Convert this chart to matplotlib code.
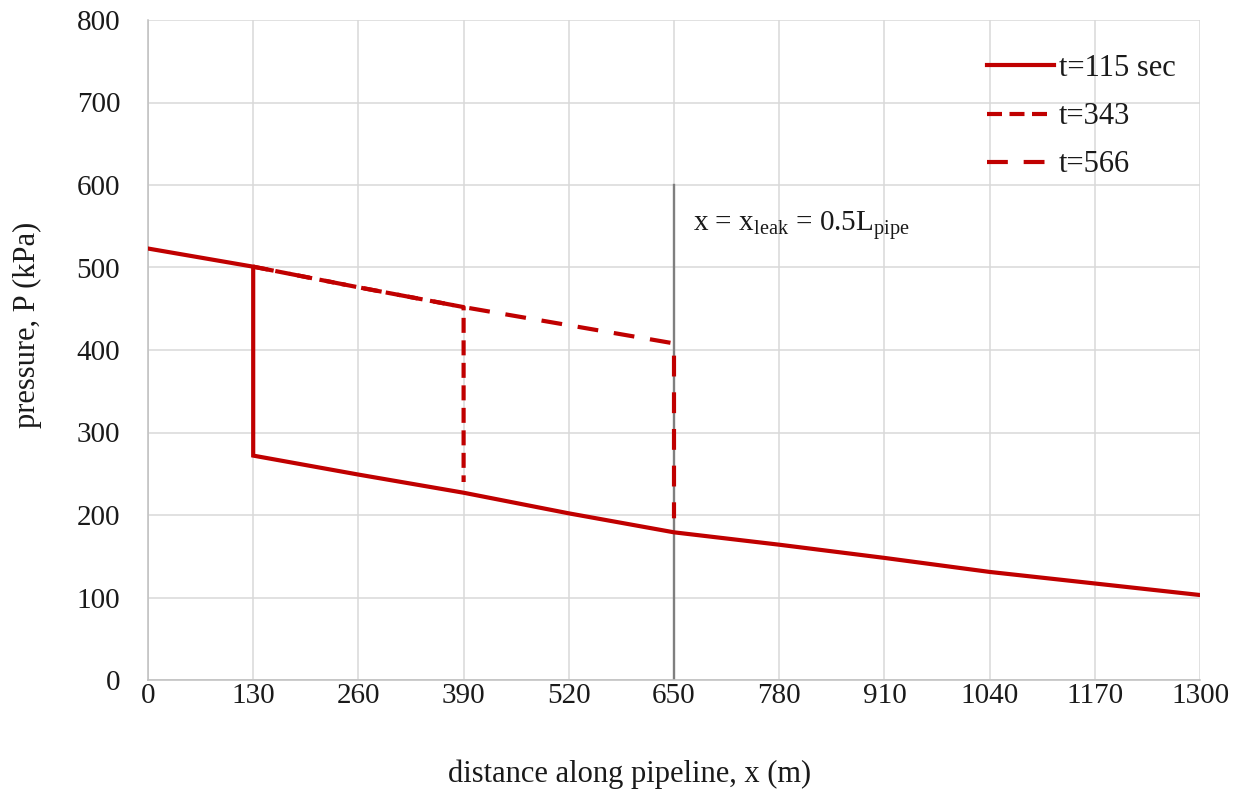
import matplotlib
matplotlib.use("Agg")
import matplotlib.pyplot as plt

plt.rcParams['font.family'] = ['Liberation Serif', 'DejaVu Serif']
plt.rcParams['mathtext.fontset'] = 'custom'
plt.rcParams['mathtext.rm'] = 'Liberation Serif'
plt.rcParams['mathtext.it'] = 'Liberation Serif:italic'

# t = 115 sec profile
x115 = [0, 130, 130, 260, 390, 520, 650, 780, 910, 1040, 1170, 1300]
p115 = [523, 501, 272, 249, 227, 202, 179, 164, 148, 131, 117, 103]
# t = 343 profile (front at 390 m)
x343 = [130, 260, 390, 390]
p343 = [501, 476, 452, 240]
# t = 566 profile (front at 650 m)
x566 = [130, 260, 390, 520, 650, 650]
p566 = [501, 476, 452, 430, 408, 196]
# leak position marker
x_leak = [650, 650]
p_leak = [0, 600]

xticks = [0, 130, 260, 390, 520, 650, 780, 910, 1040, 1170, 1300]
yticks = [0, 100, 200, 300, 400, 500, 600, 700, 800]

red = '#C00000'
txt = '#1a1a1a'
fig = plt.figure(figsize=(12.44, 7.99), dpi=100)
ax = fig.add_axes([148/1244, 1-680/799, (1200-148)/1244, (680-20)/799])

ax.plot(x_leak, p_leak, color='#7f7f7f', lw=1.7, zorder=2)
ax.plot(x343, p343, color=red, lw=3, linestyle=(0, (3.6, 1.8)), label='t=343', zorder=3)
ax.plot(x566, p566, color=red, lw=3, linestyle=(0, (5.0, 3.8)), label='t=566', zorder=3)
ax.plot(x115, p115, color=red, lw=3, label='t=115 sec', zorder=4, solid_joinstyle='miter')

ax.text(673, 551, r'x = x$_{\mathrm{leak}}$ = 0.5L$_{\mathrm{pipe}}$', fontsize=21,
        ha='left', va='center', color=txt)

ax.set_xlim(0, 1300)
ax.set_ylim(0, 800)
ax.set_xticks(xticks)
ax.set_yticks(yticks)
ax.set_xticklabels([str(v) for v in xticks])
ax.set_yticklabels([str(v) for v in yticks])
ax.tick_params(axis='both', length=0, labelsize=21, colors=txt)
ax.tick_params(axis='x', pad=2)
ax.tick_params(axis='y', pad=20)
ax.grid(True, color='#d9d9d9', lw=1.1, zorder=0)
ax.set_axisbelow(True)
for s in ['top', 'right']:
    ax.spines[s].set_visible(False)
for s in ['left', 'bottom']:
    ax.spines[s].set_color('#bfbfbf')
    ax.spines[s].set_linewidth(1.1)

fig.text(630/1244, 1-774/799, 'distance along pipeline, x (m)', fontsize=22, color=txt,
         ha='center', va='center')
fig.text(27/1244, 1-325/799, 'pressure, P (kPa)', fontsize=22, color=txt,
         ha='center', va='center', rotation=90)

h, l = ax.get_legend_handles_labels()
order = [2, 0, 1]
leg = ax.legend([h[i] for i in order], [l[i] for i in order],
                loc='upper left', bbox_to_anchor=(987/1244, 1-54/799), bbox_transform=fig.transFigure,
                frameon=False, fontsize=22, handlelength=2.2, handletextpad=0.15,
                labelspacing=0.63, borderaxespad=0, borderpad=0)
for t in leg.get_texts():
    t.set_color(txt)

fig.savefig('out.png', dpi=100)
